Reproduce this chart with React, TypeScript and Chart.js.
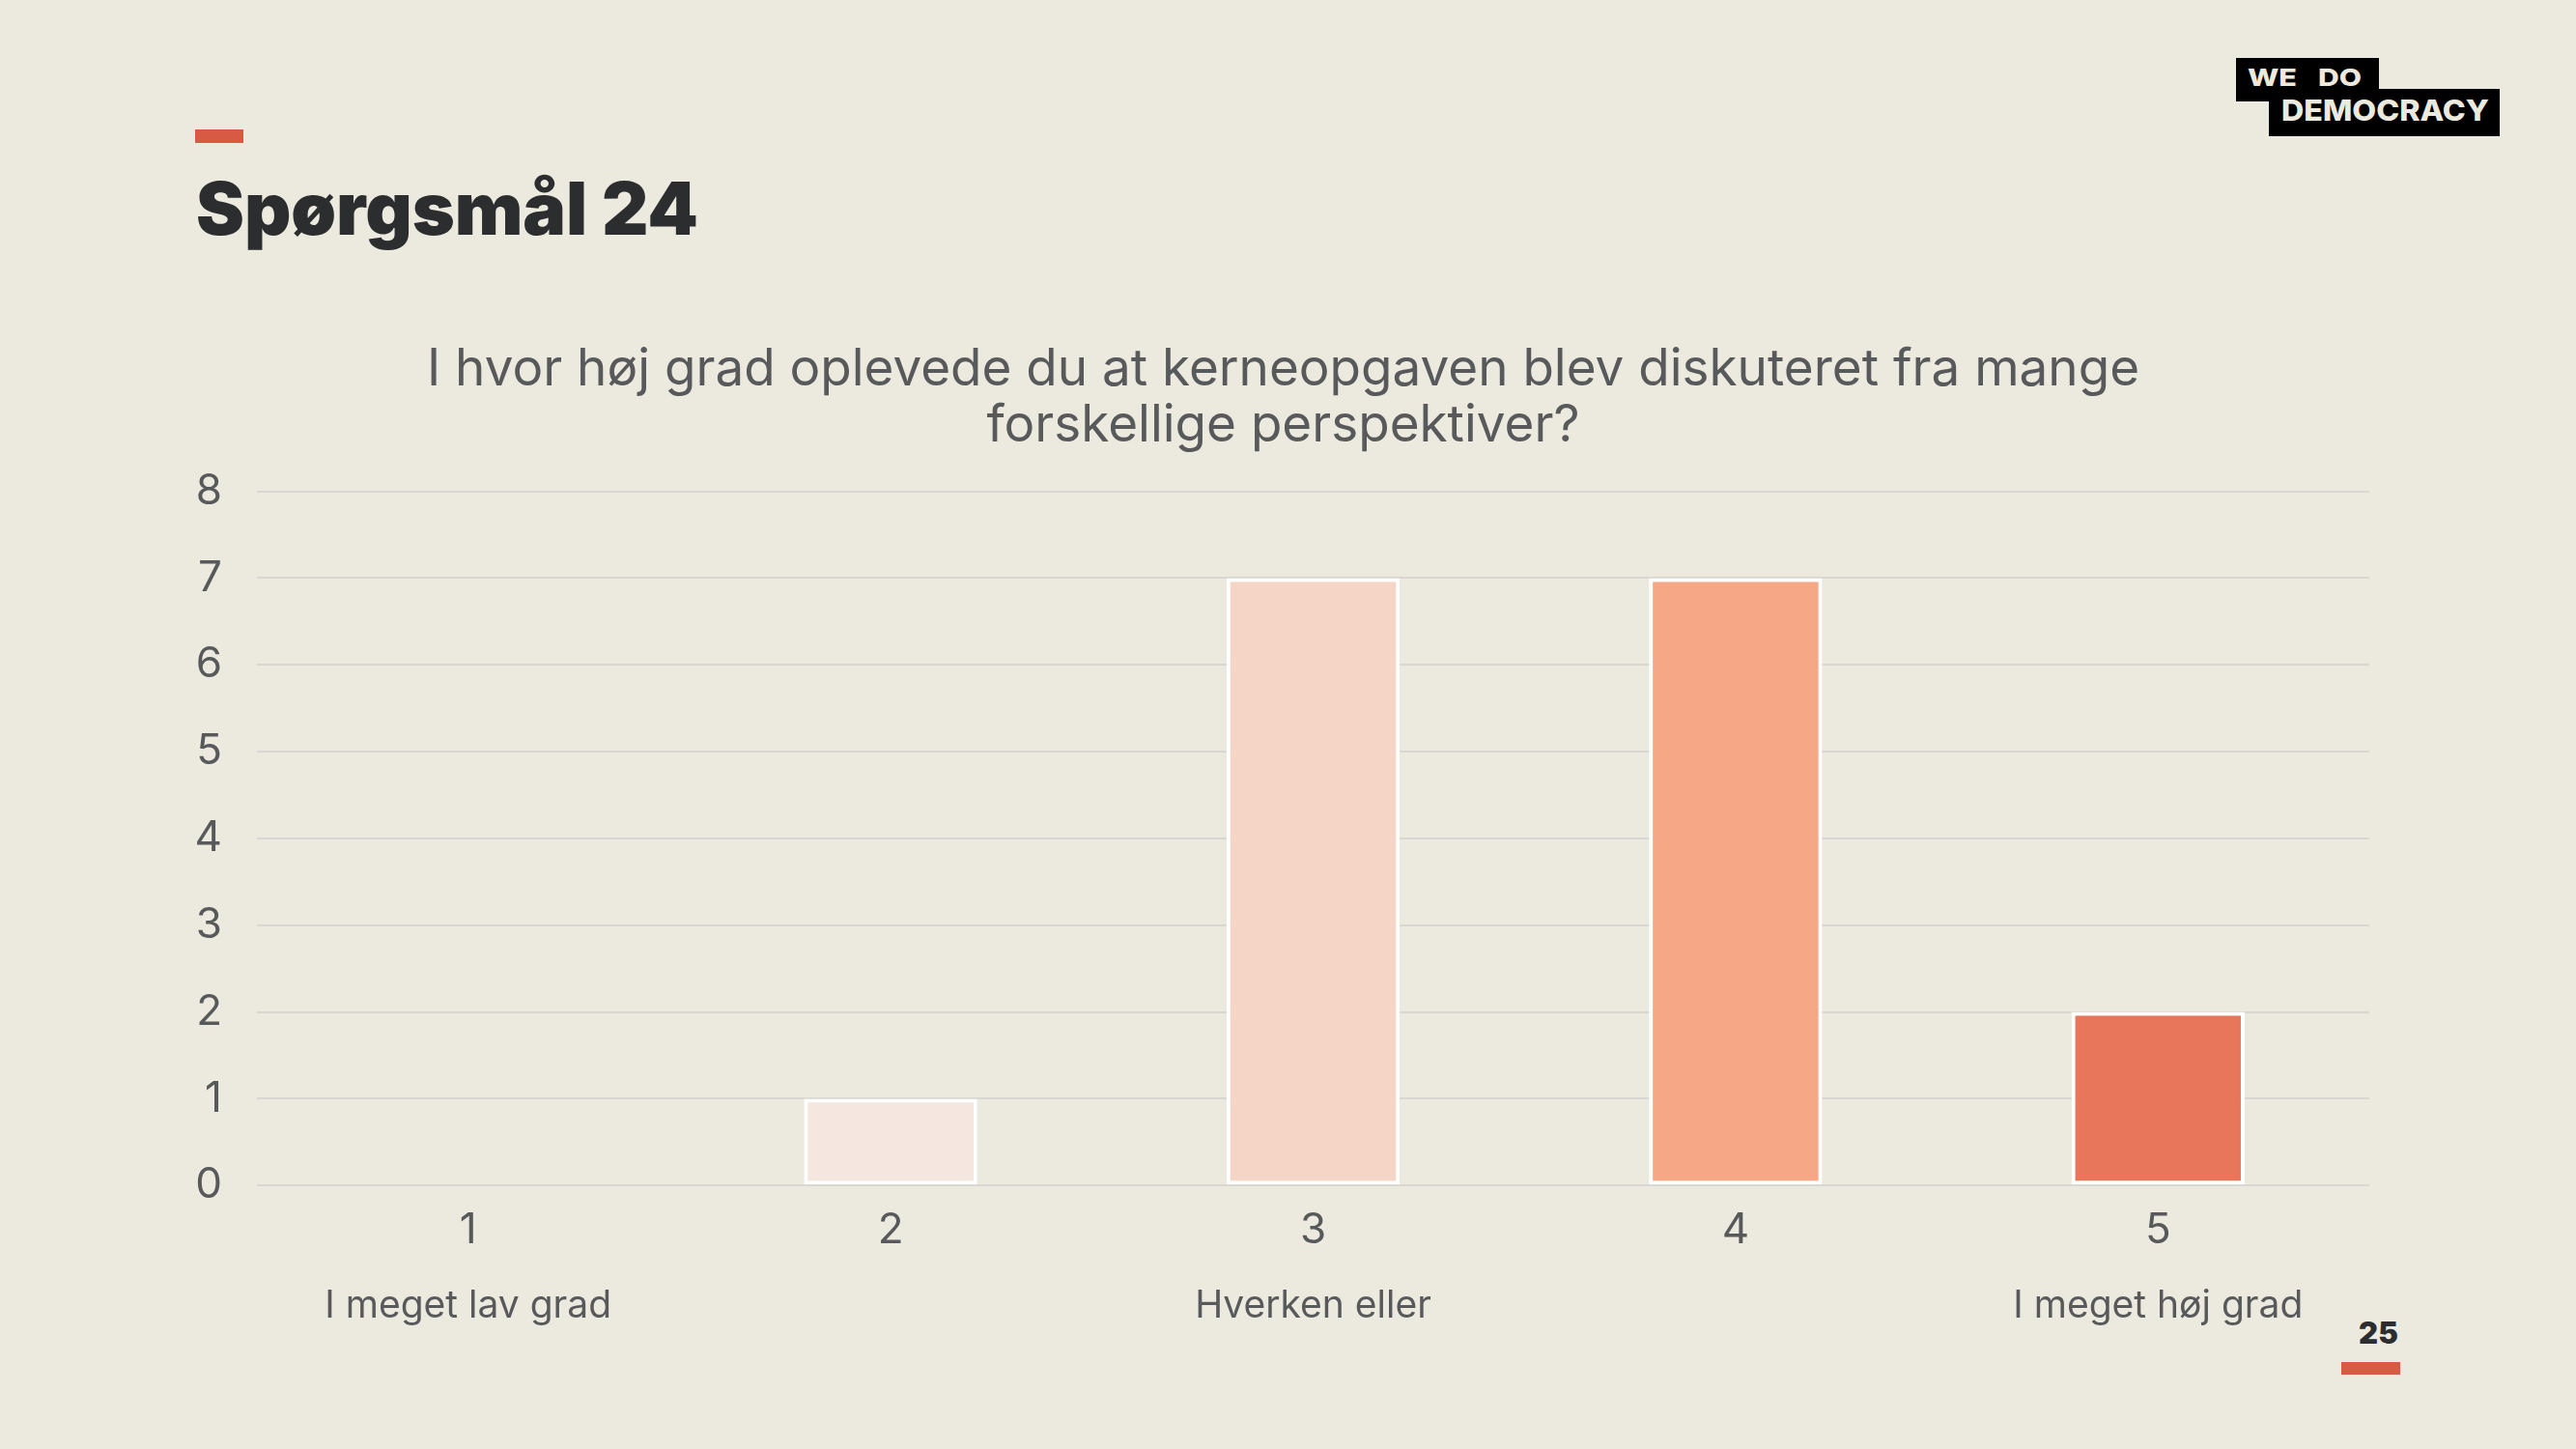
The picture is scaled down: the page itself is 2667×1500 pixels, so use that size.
import React, { useEffect, useRef } from "react";
import { Chart, registerables } from "chart.js";

Chart.register(...registerables);

const categories = ["1", "2", "3", "4", "5"];
const subLabels = ["I meget lav grad", "", "Hverken eller", "", "I meget høj grad"];
const values = [0, 1, 7, 7, 2];
const barColors = ["#F6E7E1", "#F5E6E0", "#F5D5C5", "#F6A886", "#E8765B"];
const titleLines = [
  "I hvor høj grad oplevede du at kerneopgaven blev diskuteret fra mange",
  "forskellige perspektiver?",
];
const yMin = 0;
const yMax = 8;
const yStep = 1;
const heading = "Spørgsmål 24";
const pageNumber = "25";

const BG = "#ECE9DF";
const TEXT = "#58595B";
const FONT = "Inter, 'Liberation Sans', Arial, sans-serif";

const subLabelPlugin = {
  id: "subLabels",
  afterDraw(chart: any) {
    const { ctx, chartArea } = chart;
    const x = chart.scales.x;
    ctx.save();
    ctx.font = `39px ${FONT}`;
    ctx.fillStyle = TEXT;
    ctx.textAlign = "center";
    ctx.textBaseline = "alphabetic";
    subLabels.forEach((s, i) => {
      if (!s) return;
      ctx.fillText(s, x.getPixelForValue(i), chartArea.bottom + 137);
    });
    ctx.restore();
  },
};

function BarChart() {
  const ref = useRef<HTMLCanvasElement | null>(null);
  useEffect(() => {
    if (!ref.current) return;
    const chart = new Chart(ref.current, {
      type: "bar",
      data: {
        labels: categories,
        datasets: [
          {
            data: values,
            backgroundColor: barColors,
            borderColor: "#FFFFFF",
            borderWidth: 4,
            borderSkipped: false,
            categoryPercentage: 0.82,
            barPercentage: 0.5,
          },
        ],
      },
      options: {
        animation: false,
        responsive: false,
        maintainAspectRatio: false,
        devicePixelRatio: 1,
        layout: { padding: { left: 0, right: 7, top: 0, bottom: 88 } },
        plugins: {
          legend: { display: false },
          tooltip: { enabled: false },
          title: {
            display: true,
            text: titleLines,
            color: TEXT,
            font: { family: FONT, size: 53, weight: "normal", lineHeight: 1.1 },
            padding: { top: 14, bottom: 38 },
          },
        },
        scales: {
          x: {
            grid: { display: false },
            border: { display: false },
            ticks: { color: TEXT, font: { family: FONT, size: 44 }, padding: 12 },
          },
          y: {
            min: yMin,
            max: yMax,
            border: { display: false },
            grid: { color: "#D9D7D1", lineWidth: 2, drawTicks: false },
            ticks: {
              stepSize: yStep,
              color: TEXT,
              font: { family: FONT, size: 44 },
              padding: 36,
            },
            afterFit: (scale: any) => {
              scale.width = 62;
            },
          },
        },
      },
      plugins: [subLabelPlugin],
    });
    return () => chart.destroy();
  }, []);
  return (
    <canvas
      ref={ref}
      width={2256}
      height={1060}
      style={{ position: "absolute", left: 204, top: 340, width: 2256, height: 1060 }}
    />
  );
}

export default function App() {
  return (
    <div
      style={{
        position: "fixed",
        left: 0,
        top: 0,
        width: 2667,
        height: 1500,
        background: BG,
        overflow: "hidden",
      }}
    >
      <svg
        width={2667}
        height={1500}
        style={{ position: "absolute", left: 0, top: 0 }}
      >
        <rect x={202} y={134} width={50} height={14} fill="#D95A43" />
        <text
          x={203}
          y={243}
          fill="#2B2D2F"
          textLength={520}
          lengthAdjust="spacing"
          style={{ fontFamily: "Inter, Lato, sans-serif", fontWeight: 900, fontSize: 75 }}
        >
          {heading}
        </text>
        <rect x={2315} y={60} width={148} height={45} fill="#000000" />
        <rect x={2349} y={92} width={239} height={49} fill="#000000" />
        <text
          x={2327}
          y={89}
          fill={BG}
          textLength={51}
          lengthAdjust="spacingAndGlyphs"
          style={{ fontFamily: "Inter, 'Liberation Sans', Arial, sans-serif", fontWeight: 800, fontSize: 25 }}
        >
          WE
        </text>
        <text
          x={2400}
          y={89}
          fill={BG}
          textLength={45}
          lengthAdjust="spacingAndGlyphs"
          style={{ fontFamily: "Inter, 'Liberation Sans', Arial, sans-serif", fontWeight: 800, fontSize: 25 }}
        >
          DO
        </text>
        <text
          x={2362}
          y={125}
          fill={BG}
          textLength={215}
          lengthAdjust="spacingAndGlyphs"
          style={{ fontFamily: "Inter, 'Liberation Sans', Arial, sans-serif", fontWeight: 800, fontSize: 30 }}
        >
          DEMOCRACY
        </text>
        <text
          x={2442}
          y={1391}
          fill="#2B2D2F"
          textLength={41}
          lengthAdjust="spacing"
          style={{ fontFamily: "Inter, Lato, sans-serif", fontWeight: 900, fontSize: 31 }}
        >
          {pageNumber}
        </text>
        <rect x={2424} y={1410} width={61} height={13} fill="#D95A43" />
      </svg>
      <BarChart />
    </div>
  );
}
